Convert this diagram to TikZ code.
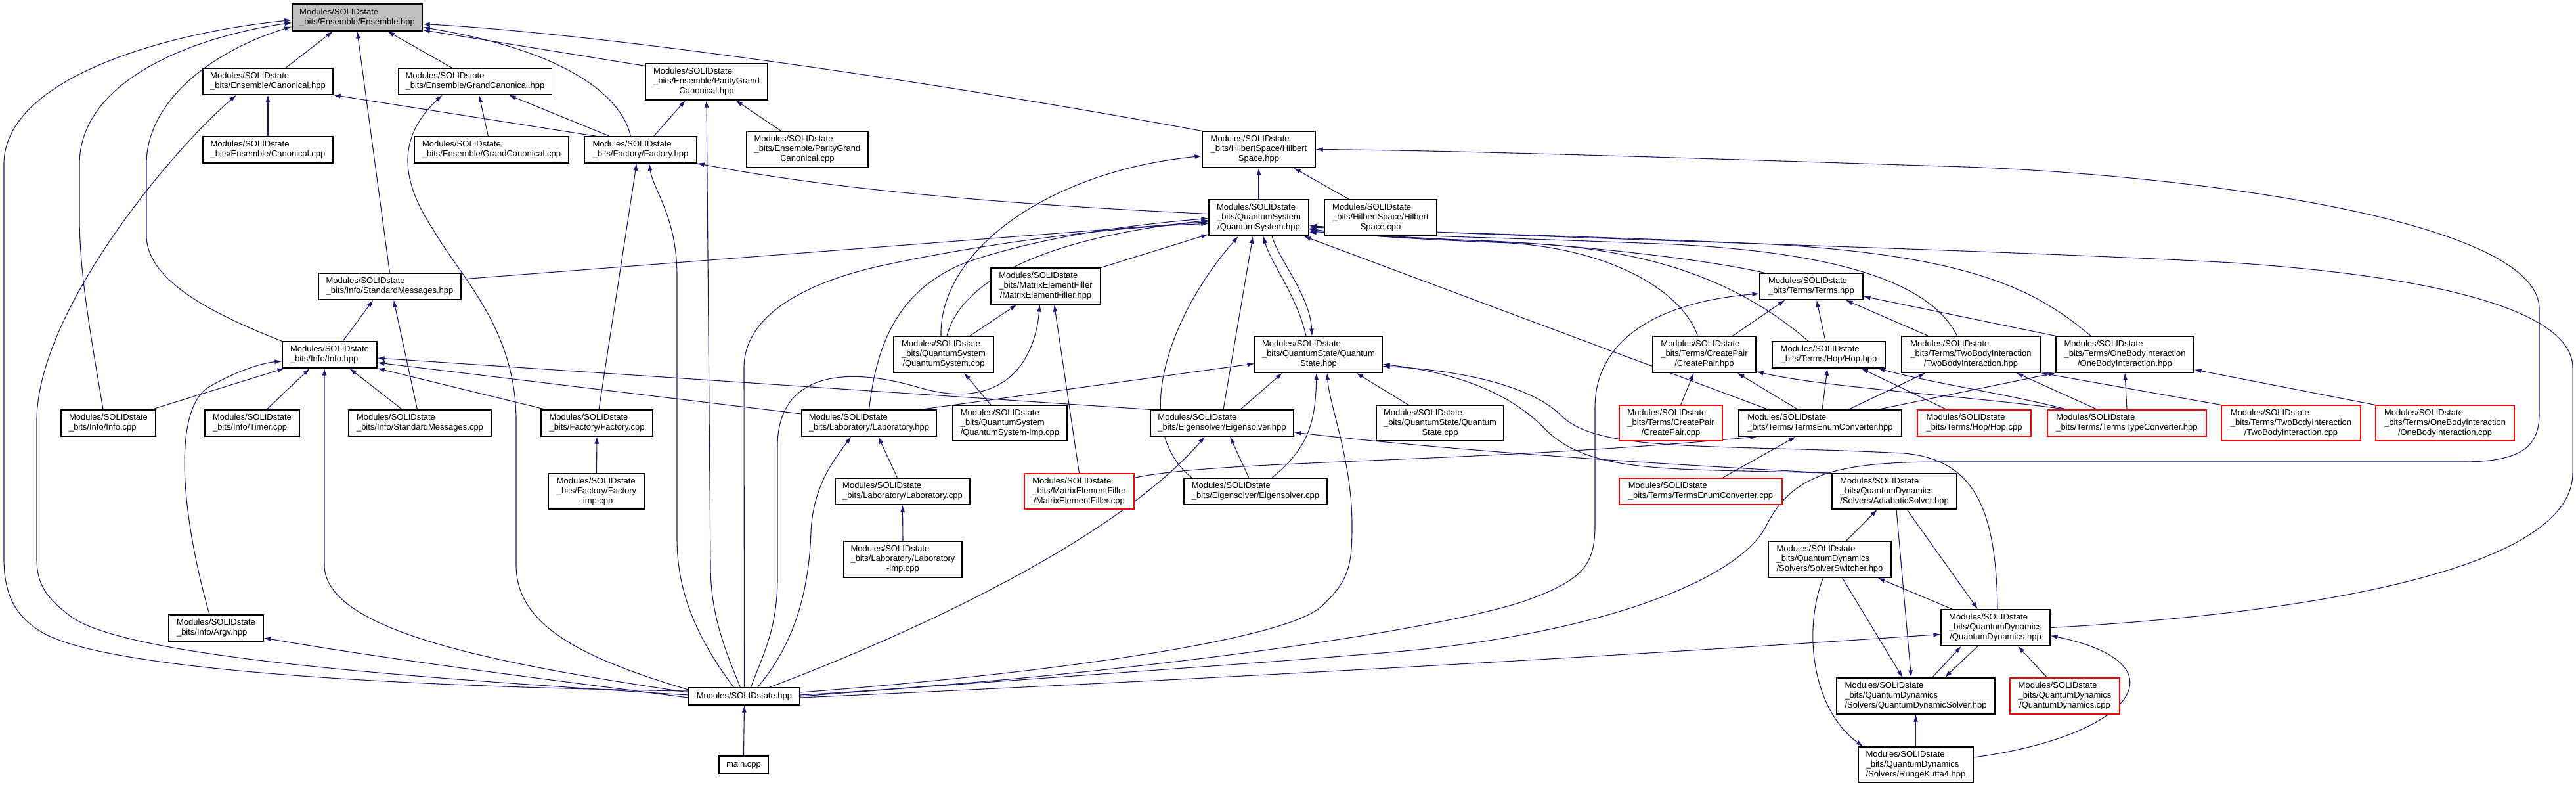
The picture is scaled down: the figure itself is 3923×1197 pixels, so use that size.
\documentclass[tikz,border=0pt]{standalone}
\usepackage{fontspec}
\usepackage{tikz}
\usetikzlibrary{arrows.meta}
\usetikzlibrary{backgrounds}
\newfontfamily\dxfont{Liberation Sans}
\definecolor{edgeblue}{HTML}{191970}
\definecolor{rootgray}{HTML}{BFBFBF}
\newcommand{\ftwo}[1]{\begin{tabular}{@{}l@{}}Modules/SOLIDstate\\\_bits/#1\end{tabular}}
\newcommand{\fthree}[2]{\begin{tabular}{@{}l@{}}Modules/SOLIDstate\\\_bits/#1\\\multicolumn{1}{@{}c@{}}{#2}\end{tabular}}
\tikzset{
  file/.style={draw=black, line width=1.2pt, fill=white, inner sep=0pt, font={\dxfont\fontsize{13}{15}\selectfont}},
  redfile/.style={file, draw=red},
  rootfile/.style={file, fill=rootgray},
  sz/.style 2 args={minimum width=#1pt, minimum height=#2pt},
  dep/.style={draw=edgeblue, line width=1.1pt, -{Latex[length=11pt,width=7pt]}},
}

\begin{document}
\begin{tikzpicture}[x=1pt,y=-1pt]
\useasboundingbox (0,0) rectangle (3923,1197);

\node[rootfile, sz={198}{41}] (E) at (544,26.5) {\ftwo{Ensemble/Ensemble.hpp}};
\node[file, sz={198}{40}] (Can) at (408,124) {\ftwo{Ensemble/Canonical.hpp}};
\node[file, sz={234}{40}] (GC) at (723.5,124) {\ftwo{Ensemble/GrandCanonical.hpp}};
\node[file, sz={186}{55}] (PGC) at (1076,124.5) {\fthree{Ensemble/ParityGrand}{Canonical.hpp}};
\node[file, sz={198}{40}] (CanCpp) at (408,228) {\ftwo{Ensemble/Canonical.cpp}};
\node[file, sz={235}{40}] (GCcpp) at (748.5,228) {\ftwo{Ensemble/GrandCanonical.cpp}};
\node[file, sz={171}{40}] (Fac) at (975.5,228) {\ftwo{Factory/Factory.hpp}};
\node[file, sz={185}{55}] (PGCcpp) at (1229.5,227.5) {\fthree{Ensemble/ParityGrand}{Canonical.cpp}};
\node[file, sz={172}{55}] (HS) at (1917,227.5) {\fthree{HilbertSpace/Hilbert}{Space.hpp}};
\node[file, sz={152}{55}] (QS) at (1917,331.5) {\fthree{QuantumSystem}{/QuantumSystem.hpp}};
\node[file, sz={171}{55}] (HScpp) at (2102.5,331.5) {\fthree{HilbertSpace/Hilbert}{Space.cpp}};
\node[file, sz={217}{40}] (SMhpp) at (593.5,436) {\ftwo{Info/StandardMessages.hpp}};
\node[file, sz={167}{55}] (MEF) at (1592.5,435.5) {\fthree{MatrixElementFiller}{/MatrixElementFiller.hpp}};
\node[file, sz={157}{40}] (Terms) at (2758.5,436) {\ftwo{Terms/Terms.hpp}};
\node[file, sz={144}{40}] (Info) at (502,540) {\ftwo{Info/Info.hpp}};
\node[file, sz={152}{55}] (QScpp) at (1437,539.5) {\fthree{QuantumSystem}{/QuantumSystem.cpp}};
\node[file, sz={194}{55}] (QSt) at (2008,539.5) {\fthree{QuantumState/Quantum}{State.hpp}};
\node[file, sz={157}{55}] (CP) at (2595.5,539.5) {\fthree{Terms/CreatePair}{/CreatePair.hpp}};
\node[file, sz={172}{40}] (Hop) at (2785,540) {\ftwo{Terms/Hop/Hop.hpp}};
\node[file, sz={211}{55}] (TB) at (3001.5,539.5) {\fthree{Terms/TwoBodyInteraction}{/TwoBodyInteraction.hpp}};
\node[file, sz={210}{55}] (OB) at (3236,539.5) {\fthree{Terms/OneBodyInteraction}{/OneBodyInteraction.hpp}};
\node[file, sz={144}{40}] (InfoCpp) at (165,644) {\ftwo{Info/Info.cpp}};
\node[file, sz={144}{40}] (Timer) at (384,644) {\ftwo{Info/Timer.cpp}};
\node[file, sz={217}{40}] (SMcpp) at (639.5,644) {\ftwo{Info/StandardMessages.cpp}};
\node[file, sz={170}{40}] (FacCpp) at (909,644) {\ftwo{Factory/Factory.cpp}};
\node[file, sz={205}{40}] (Lab) at (1323.5,644) {\ftwo{Laboratory/Laboratory.hpp}};
\node[file, sz={174}{54}] (QSimp) at (1538,644) {\fthree{QuantumSystem}{/QuantumSystem-imp.cpp}};
\node[file, sz={218}{40}] (Eig) at (1861,644) {\ftwo{Eigensolver/Eigensolver.hpp}};
\node[file, sz={194}{54}] (QStCpp) at (2193,644) {\fthree{QuantumState/Quantum}{State.cpp}};
\node[redfile, sz={157}{54}] (CPcpp) at (2544.5,644) {\fthree{Terms/CreatePair}{/CreatePair.cpp}};
\node[file, sz={248}{40}] (TEC) at (2772,644) {\ftwo{Terms/TermsEnumConverter.hpp}};
\node[redfile, sz={173}{40}] (HopCpp) at (3006.5,644) {\ftwo{Terms/Hop/Hop.cpp}};
\node[redfile, sz={242}{40}] (TTC) at (3239,644) {\ftwo{Terms/TermsTypeConverter.hpp}};
\node[redfile, sz={212}{54}] (TBcpp) at (3489,644) {\fthree{Terms/TwoBodyInteraction}{/TwoBodyInteraction.cpp}};
\node[redfile, sz={211}{54}] (OBcpp) at (3723.5,644) {\fthree{Terms/OneBodyInteraction}{/OneBodyInteraction.cpp}};
\node[file, sz={147}{54}] (FacImp) at (908.5,748) {\fthree{Factory/Factory}{-imp.cpp}};
\node[file, sz={205}{40}] (LabCpp) at (1374.5,748) {\ftwo{Laboratory/Laboratory.cpp}};
\node[redfile, sz={167}{54}] (MEFcpp) at (1643.5,748) {\fthree{MatrixElementFiller}{/MatrixElementFiller.cpp}};
\node[file, sz={218}{40}] (EigCpp) at (1912,748) {\ftwo{Eigensolver/Eigensolver.cpp}};
\node[redfile, sz={248}{40}] (TECcpp) at (2590,748) {\ftwo{Terms/TermsEnumConverter.cpp}};
\node[file, sz={190}{54}] (AS) at (2885,748) {\fthree{QuantumDynamics}{/Solvers/AdiabaticSolver.hpp}};
\node[file, sz={180}{55}] (LabImp) at (1375,851.5) {\fthree{Laboratory/Laboratory}{-imp.cpp}};
\node[file, sz={187}{55}] (SS) at (2786.5,851.5) {\fthree{QuantumDynamics}{/Solvers/SolverSwitcher.hpp}};
\node[file, sz={144}{40}] (Argv) at (329,956) {\ftwo{Info/Argv.hpp}};
\node[file, sz={166}{55}] (QD) at (3039,955.5) {\fthree{QuantumDynamics}{/QuantumDynamics.hpp}};
\node[file, sz={169}{26}] (SOL) at (1133.5,1060) {Modules/SOLIDstate.hpp};
\node[file, sz={241}{55}] (QDS) at (2917.5,1059.5) {\fthree{QuantumDynamics}{/Solvers/QuantumDynamicSolver.hpp}};
\node[redfile, sz={167}{55}] (QDcpp) at (3144.5,1059.5) {\fthree{QuantumDynamics}{/QuantumDynamics.cpp}};
\node[file, sz={75}{26}] (main) at (1132.5,1164) {main.cpp};
\node[file, sz={175}{54}] (RK4) at (2917.5,1164) {\fthree{QuantumDynamics}{/Solvers/RungeKutta4.hpp}};

\begin{pgfonlayer}{background}
% into Ensemble.hpp
\draw[dep] ([xshift=27]Can.north) -- ([xshift=-37]E.south);
\draw[dep] ([xshift=-35]GC.north) -- ([xshift=46]E.south);
\draw[dep] (SMhpp.north) -- (E.south);
\draw[dep] ([yshift=8]SOL.west) .. controls (600,1045) and (150,1020) .. (60,960) .. controls (20,935) and (6,900) .. (6,850) -- (6,250) .. controls (6,120) and (250,50) .. ([yshift=-4]E.west);
\draw[dep] ([xshift=-8]InfoCpp.north) .. controls (140,520) and (121,420) .. (121,330) -- (121,250) .. controls (121,120) and (300,55) .. ([yshift=-8]E.west);
\draw[dep] (Info.north west) .. controls (330,480) and (225,430) .. (223,360) -- (223,250) .. controls (223,150) and (330,75) .. ([yshift=-14]E.west);
\draw[dep] ([yshift=-4]PGC.north west) -- ([yshift=2]E.south east);
\draw[dep] (HS.north west) .. controls (1400,120) and (900,50) .. ([yshift=-10]E.east);
\draw[dep] ([xshift=-15]Fac.north) .. controls (945,140) and (850,75) .. ([yshift=-15]E.east);
% Canonical, GrandCanonical, ParityGrandCanonical
\draw[dep] (CanCpp.north) -- (Can.south);
\draw[dep] ([yshift=2]SOL.west) .. controls (600,1030) and (200,1000) .. (110,940) .. controls (70,910) and (56,890) .. (56,850) -- (56,640) .. controls (56,480) and (250,240) .. ([xshift=-48]Can.south);
\draw[dep] ([xshift=19]Fac.north west) -- (Can.south east);
\draw[dep] ([xshift=-5]GCcpp.north) -- ([xshift=6]GC.south);
\draw[dep] ([xshift=-47]Fac.north) -- ([xshift=51]GC.south);
\draw[dep] ([yshift=10]SOL.west) .. controls (880,1000) and (786,950) .. (786,860) -- (786,640) .. controls (786,500) and (700,420) .. (660,350) .. controls (600,260) and (615,200) .. ([xshift=-50]GC.south);
\draw[dep] ([xshift=20]Fac.north) -- ([xshift=-32]PGC.south);
\draw[dep] ([xshift=-40]PGCcpp.north) -- ([xshift=44]PGC.south);
\draw[dep] ([xshift=-6]SOL.north) .. controls (1100,980) and (1082,930) .. (1082,860) -- (PGC.south);
% Factory.hpp
\draw[dep] ([yshift=6]QS.west) .. controls (1500,310) and (1250,285) .. (Fac.south east);
\draw[dep] ([xshift=3]FacCpp.north) -- ([xshift=-6]Fac.south);
\draw[dep] ([xshift=-16]SOL.north) .. controls (1060,970) and (1031,900) .. (1031,820) -- (1031,420) .. controls (1031,330) and (995,290) .. ([xshift=13]Fac.south);
% HilbertSpace.hpp
\draw[dep] (QS.north) -- (HS.south);
\draw[dep] ([xshift=-48]HScpp.north) -- ([xshift=53]HS.south);
\draw[dep] ([xshift=-4]QScpp.north) .. controls (1430,380) and (1600,260) .. ([yshift=-10]HS.west);
\draw[dep] (SOL.east) .. controls (1600,1030) and (1900,1012) .. (2150,990) .. controls (2450,960) and (2650,880) .. (2690,800) .. controls (2730,720) and (2800,703) .. (2960,703) -- (3750,703) .. controls (3840,703) and (3867,680) .. (3867,630) -- (3867,470) .. controls (3867,330) and (3300,262) .. (2960,253) .. controls (2500,238) and (2200,229) .. (HS.east);
% QuantumSystem.hpp
\draw[dep] ([yshift=11]SMhpp.east) -- ([yshift=-6]QS.west);
\draw[dep] (SOL.north) -- (1133,560) .. controls (1133,470) and (1250,425) .. (1340,405) .. controls (1500,370) and (1700,345) .. ([yshift=-9]QS.west);
\draw[dep] ([xshift=5]QScpp.north) .. controls (1460,440) and (1560,365) .. ([yshift=-4]QS.west);
\draw[dep] (MEF.north east) -- ([yshift=3]QS.south west);
\draw[dep] (Lab.north) .. controls (1335,520) and (1370,440) .. (1470,400) .. controls (1600,355) and (1750,340) .. ([yshift=-1]QS.west);
\draw[dep] ([xshift=-97]EigCpp.north) .. controls (1720,650) and (1780,480) .. ([xshift=-31]QS.south);
\draw[dep] ([xshift=2]Eig.north) -- ([xshift=-9]QS.south);
\draw[dep] ([xshift=-19]QSt.north) .. controls (1975,450) and (1935,400) .. ([xshift=7]QS.south);
\draw[dep] ([xshift=20]QS.south) .. controls (1950,400) and (1995,450) .. ([xshift=-10]QSt.north);
\draw[dep] ([xshift=-79]TEC.north) -- ([xshift=-8]QS.south east);
\draw[dep] ([xshift=-10]CP.north) .. controls (2560,440) and (2450,380) .. (2300,370) .. controls (2150,364) and (2050,358) .. ([yshift=12]QS.south east);
\draw[dep] ([xshift=-31]Hop.north) .. controls (2650,430) and (2520,380) .. (2320,370) .. controls (2150,362) and (2050,356) .. ([yshift=10]QS.south east);
\draw[dep] ([xshift=-71]Terms.north) .. controls (2600,395) and (2400,372) .. (2250,366) .. controls (2120,362) and (2040,356) .. ([yshift=8]QS.south east);
\draw[dep] ([xshift=-21]TB.north) .. controls (2940,430) and (2800,385) .. (2550,372) .. controls (2300,362) and (2060,356) .. ([yshift=6]QS.south east);
\draw[dep] ([xshift=-52]OB.north) .. controls (3100,440) and (3000,390) .. (2700,372) .. controls (2400,358) and (2100,352) .. ([yshift=14]QS.south east);
\draw[dep] (QD.east) .. controls (3500,935) and (3918,870) .. (3918,720) -- (3918,560) .. controls (3918,470) and (3700,420) .. (3400,400) .. controls (3000,378) and (2300,362) .. ([yshift=16]QS.south east);
% Info
\draw[dep] ([xshift=20]Info.north) -- ([xshift=-25]SMhpp.south);
\draw[dep] ([xshift=-4]SMcpp.north) -- ([xshift=6]SMhpp.south);
\draw[dep] ([xshift=-7]InfoCpp.north east) -- ([xshift=4]Info.south west);
\draw[dep] ([xshift=22]Timer.north) -- ([xshift=-30]Info.south);
\draw[dep] ([xshift=-27]SMcpp.north) -- ([xshift=30]Info.south);
\draw[dep] ([xshift=8]FacCpp.north west) -- (Info.south east);
\draw[dep] ([yshift=14]Lab.west) -- ([yshift=-12]Info.east);
\draw[dep] (Eig.north west) -- ([yshift=-5]Info.east);
\draw[dep] ([yshift=6]SOL.west) .. controls (750,1010) and (494,960) .. (494,860) -- ([xshift=-8]Info.south);
\draw[dep] ([xshift=-10]Argv.north) .. controls (275,780) and (262,620) .. (320,588) .. controls (360,565) and (400,552) .. ([yshift=-10]Info.west);
\draw[dep] ([yshift=-2]SOL.west) .. controls (800,1030) and (600,1005) .. ([yshift=-15]Argv.east);
\draw[dep] (FacImp.north) -- (FacCpp.south);
% MatrixElementFiller, Laboratory
\draw[dep] ([xshift=40]QScpp.north) -- ([xshift=-44]MEF.south);
\draw[dep] ([xshift=10]SOL.north) .. controls (1160,1000) and (1184,960) .. (1184,880) -- (1184,680) .. controls (1184,560) and (1300,560) .. (1400,590) .. controls (1520,625) and (1575,560) .. ([xshift=-9]MEF.south);
\draw[dep] (MEFcpp.north) -- ([xshift=13]MEF.south);
\draw[dep] ([xshift=-29]QSimp.north) -- ([xshift=31]QScpp.south);
\draw[dep] ([xshift=-8]LabCpp.north) -- ([xshift=14]Lab.south);
\draw[dep] ([xshift=20]SOL.north) .. controls (1210,980) and (1232,900) .. (1235,810) .. controls (1238,740) and (1270,700) .. ([xshift=-27]Lab.south);
\draw[dep] (LabImp.north) -- (LabCpp.south);
\draw[dep] ([xshift=-25]Lab.north east) -- ([yshift=-14]QSt.west);
% QuantumState, Eigensolver
\draw[dep] ([xshift=28]Eig.north) -- ([xshift=-55]QSt.south);
\draw[dep] ([xshift=25]EigCpp.north) .. controls (1995,680) and (2003,640) .. ([xshift=-3]QSt.south);
\draw[dep] ([xshift=-48]QStCpp.north) -- ([xshift=57]QSt.south);
\draw[dep] ([yshift=6]SOL.east) .. controls (1600,1025) and (1950,975) .. (2010,925) .. controls (2055,885) and (2059,860) .. (2059,800) .. controls (2059,700) and (2025,620) .. ([xshift=13]QSt.south);
\draw[dep] (AS.north west) .. controls (2550,712) and (2420,725) .. (2350,650) .. controls (2290,590) and (2200,565) .. ([yshift=-15]QSt.east);
\draw[dep] ([xshift=3]QD.north) .. controls (3040,780) and (3010,700) .. (2900,690) .. controls (2600,675) and (2430,690) .. (2375,630) .. controls (2320,580) and (2200,562) .. ([yshift=-18]QSt.east);
\draw[dep] ([xshift=-10]EigCpp.north) -- ([xshift=12]Eig.south);
\draw[dep] ([xshift=38]SOL.north) .. controls (1400,960) and (1700,820) .. ([xshift=-26]Eig.south);
\draw[dep] (AS.north west) .. controls (2500,705) and (2200,685) .. ([yshift=-14]Eig.east);
% Terms
\draw[dep] ([xshift=43]CP.north) -- ([xshift=-40]Terms.south);
\draw[dep] ([xshift=-5]Hop.north) -- ([xshift=8]Terms.south);
\draw[dep] ([xshift=-65]TB.north) -- ([xshift=52]Terms.south);
\draw[dep] (OB.north west) -- ([yshift=-15]Terms.east);
\draw[dep] ([yshift=2]SOL.east) .. controls (1700,1030) and (2200,960) .. (2330,912) .. controls (2410,882) and (2429,860) .. (2429,800) -- (2429,620) .. controls (2429,520) and (2520,460) .. ([yshift=-11]Terms.west);
\draw[dep] ([xshift=15]CPcpp.north) -- ([xshift=-16]CP.south);
\draw[dep] ([xshift=-34]TEC.north) -- ([xshift=50]CP.south);
\draw[dep] ([xshift=31]TTC.north west) .. controls (3000,603) and (2780,590) .. ([yshift=2]CP.south east);
\draw[dep] ([xshift=3]TEC.north) -- ([xshift=-2]Hop.south);
\draw[dep] ([xshift=-42]HopCpp.north) -- ([xshift=49]Hop.south);
\draw[dep] ([xshift=31]TTC.north west) .. controls (3050,598) and (2950,585) .. ([xshift=-12]Hop.south east);
\draw[dep] ([xshift=43]TEC.north) -- ([xshift=37]TB.south west);
\draw[dep] ([xshift=-45]TTC.north) -- ([xshift=-37]TB.south east);
\draw[dep] (TBcpp.north west) -- (TB.south east);
\draw[dep] ([xshift=-37]TEC.north east) -- (OB.south west);
\draw[dep] (TTC.north) -- (OB.south);
\draw[dep] (OBcpp.north west) -- ([yshift=5]OB.south east);
\draw[dep] ([xshift=33]TECcpp.north) -- ([xshift=-37]TEC.south);
\draw[dep] ([yshift=-7]MEFcpp.north east) .. controls (1850,700) and (2250,705) .. ([xshift=29]TEC.south west);
% QuantumDynamics
\draw[dep] ([yshift=-2]SOL.east) .. controls (1600,1045) and (2300,1010) .. ([yshift=-10]QD.west);
\draw[dep] ([xshift=19]AS.south) -- ([xshift=-27]QD.north);
\draw[dep] ([xshift=25]QDS.north) -- ([xshift=-52]QD.south);
\draw[dep] ([xshift=-27]QD.south) -- ([xshift=44]QDS.north);
\draw[dep] ([xshift=-27]QDcpp.north) -- ([xshift=34]QD.south);
\draw[dep] ([yshift=11]RK4.east) .. controls (3250,1120) and (3330,1010) .. ([yshift=-12]QD.east);
\draw[dep] ([xshift=18]QD.north west) -- ([xshift=-21]SS.south east);
\draw[dep] ([xshift=25]SS.north) -- ([xshift=-26]AS.south);
\draw[dep] ([xshift=19]SS.south) -- ([xshift=-20]QDS.north);
\draw[dep] ([xshift=-10]SS.south) .. controls (2745,960) and (2760,1080) .. ([xshift=8]RK4.north west);
\draw[dep] ([xshift=3]AS.south) -- ([xshift=-7]QDS.north);
\draw[dep] (RK4.north) -- (QDS.south);
\draw[dep] (main.north) -- (SOL.south);
\end{pgfonlayer}
\end{tikzpicture}
\end{document}
